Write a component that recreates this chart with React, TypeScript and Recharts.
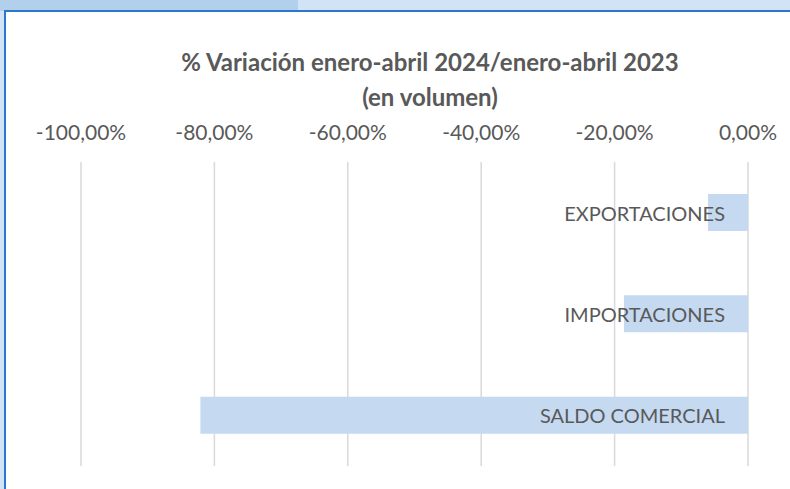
import { BarChart, Bar, XAxis, YAxis, CartesianGrid, LabelList } from 'recharts';

const categories = ['EXPORTACIONES', 'IMPORTACIONES', 'SALDO COMERCIAL'];
const variation = [-0.06, -0.186, -0.821];
const xTicks = [-1, -0.8, -0.6, -0.4, -0.2, 0];

const data = categories.map((name, i) => ({ name, value: variation[i] }));

const TEXT = '#595959';
const FONT = 'Lato, "Open Sans", sans-serif';

const fmtPct = (v: number) => (v * 100).toFixed(2).replace('.', ',') + '%';

function AxisTick({ x, y, payload }: any) {
  return (
    <text x={x} y={y} dy={-23} textAnchor="middle" dominantBaseline="central" fill={TEXT} fontSize={21} fontFamily={FONT}>
      {fmtPct(payload.value)}
    </text>
  );
}

function NameLabel({ x, y, width, height, value }: any) {
  const right = Math.max(x, x + width);
  return (
    <text
      x={right - 23}
      y={y + height / 2}
      textAnchor="end"
      dominantBaseline="central"
      fill={TEXT}
      fontSize={20}
      fontFamily={FONT}
    >
      {value}
    </text>
  );
}

export default function App() {
  return (
    <div style={{ position: 'absolute', left: 0, top: 0, width: 790, height: 489, background: '#d2e3f5', overflow: 'hidden' }}>
      <div style={{ position: 'absolute', left: 0, top: 0, width: 298, height: 11, background: '#b2cfec' }} />
      <div
        style={{
          position: 'absolute',
          left: 4,
          top: 10,
          width: 820,
          height: 520,
          background: '#ffffff',
          border: '2px solid #2a78cc',
        }}
      />
      <div
        style={{
          position: 'absolute',
          left: 0,
          top: 44,
          width: 860,
          textAlign: 'center',
          color: TEXT,
          fontFamily: FONT,
          fontWeight: 'bold',
          fontSize: 24,
          lineHeight: '35px',
        }}
      >
        % Variación enero-abril 2024/enero-abril 2023
        <br />
        (en volumen)
      </div>
      <div style={{ position: 'absolute', left: 0, top: 0 }}>
        <BarChart
          width={790}
          height={489}
          data={data}
          layout="vertical"
          margin={{ top: 132, right: 42, bottom: 23, left: 81 }}
          barSize={37}
        >
          <CartesianGrid horizontal={false} stroke="#d9d9d9" strokeWidth={1.5} />
          <XAxis
            type="number"
            orientation="top"
            domain={[-1, 0]}
            ticks={xTicks}
            height={30}
            axisLine={false}
            tickLine={false}
            tick={<AxisTick />}
            interval={0}
          />
          <YAxis type="category" dataKey="name" hide />
          <Bar dataKey="value" fill="#c5d9f1" isAnimationActive={false}>
            <LabelList dataKey="name" content={<NameLabel />} />
          </Bar>
        </BarChart>
      </div>
    </div>
  );
}
